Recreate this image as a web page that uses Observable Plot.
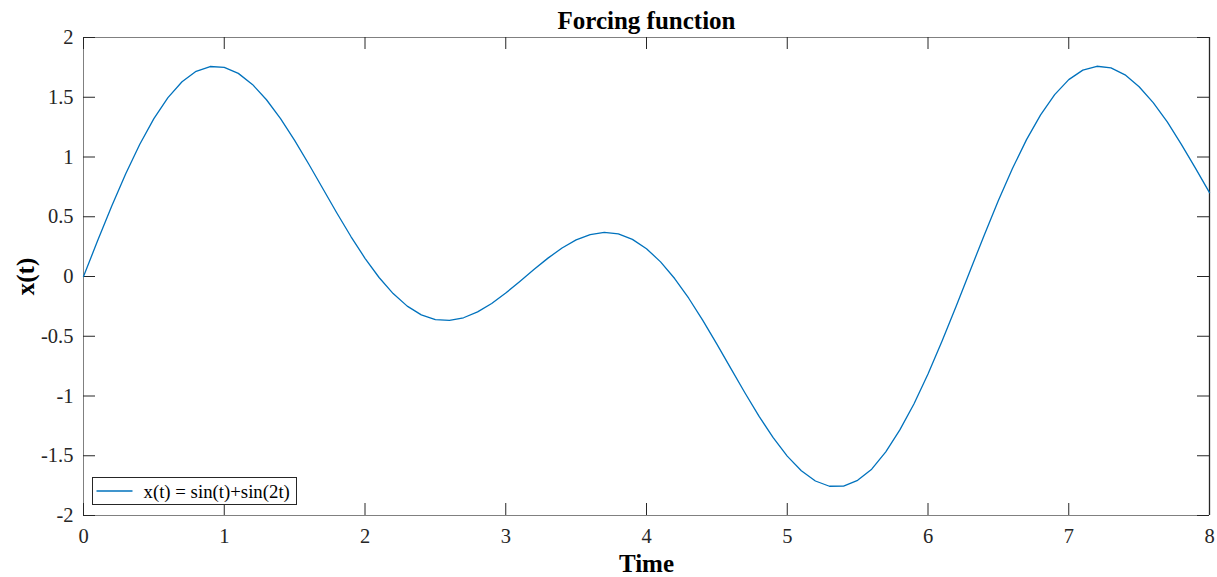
<!DOCTYPE html>
<html>
<head>
<meta charset="utf-8">
<script src="https://cdn.jsdelivr.net/npm/d3@7"></script>
<script src="https://cdn.jsdelivr.net/npm/@observablehq/plot@0.6"></script>
<style>
  html, body { margin: 0; padding: 0; background: #fff; }
  #chart { position: relative; width: 1217px; height: 577px; }
</style>
</head>
<body>
<div id="chart"></div>
<script>
const tValues = [0.0,0.1,0.2,0.3,0.4,0.5,0.6,0.7,0.8,0.9,1.0,1.1,1.2,1.3,1.4,1.5,1.6,1.7,1.8,1.9,2.0,2.1,2.2,2.3,2.4,2.5,2.6,2.7,2.8,2.9,3.0,3.1,3.2,3.3,3.4,3.5,3.6,3.7,3.8,3.9,4.0,4.1,4.2,4.3,4.4,4.5,4.6,4.7,4.8,4.9,5.0,5.1,5.2,5.3,5.4,5.5,5.6,5.7,5.8,5.9,6.0,6.1,6.2,6.3,6.4,6.5,6.6,6.7,6.8,6.9,7.0,7.1,7.2,7.3,7.4,7.5,7.6,7.7,7.8,7.9,8.0];
const xValues = [0.0000,0.2985,0.5881,0.8602,1.1068,1.3209,1.4967,1.6297,1.7169,1.7572,1.7508,1.6997,1.6075,1.4791,1.3204,1.1386,0.9412,0.7361,0.5313,0.3344,0.1525,-0.0084,-0.1431,-0.2480,-0.3207,-0.3605,-0.3680,-0.3454,-0.2963,-0.2254,-0.1383,-0.0415,0.0582,0.1538,0.2386,0.3062,0.3512,0.3689,0.3561,0.3108,0.2326,0.1225,-0.0170,-0.1818,-0.3667,-0.5654,-0.7708,-0.9751,-1.1705,-1.3489,-1.5029,-1.6257,-1.7113,-1.7552,-1.7543,-1.7055,-1.6122,-1.4670,-1.2838,-1.0674,-0.8160,-0.5404,-0.2487,0.0504,0.3481,0.6353,0.9036,1.1452,1.3530,1.5218,1.6476,1.7270,1.7593,1.7454,1.6878,1.5883,1.4551,1.2932,1.1063,0.9070,0.7015];
const xTicks = [0,1,2,3,4,5,6,7,8];
const yTicks = [-2,-1.5,-1,-0.5,0,0.5,1,1.5,2];
const seriesLabel = "x(t) = sin(t)+sin(2t)";
const titleText = "Forcing function";
const xLabel = "Time";
const yLabel = "x(t)";

const data = tValues.map((t, i) => ({t, x: xValues[i]}));

const W = 1217, H = 577;
const mL = 83, mR = 8, mT = 37, mB = 62;
const pw = W - mL - mR, ph = H - mT - mB;
const tick = 12;
const font = "'Liberation Serif', 'Times New Roman', serif";
const dark = "#262626";

const plot = Plot.plot({
  width: W, height: H,
  marginLeft: mL, marginRight: mR, marginTop: mT, marginBottom: mB,
  style: {fontFamily: font, fontSize: "20px", color: dark, background: "#fff", overflow: "visible"},
  x: {domain: [0, 8]},
  y: {domain: [-2, 2]},
  marks: [
    // box
    Plot.ruleY([-2], {stroke: "#808080", strokeWidth: 1}),
    Plot.ruleY([2], {stroke: "#808080", strokeWidth: 1}),
    Plot.ruleX([0], {stroke: "#808080", strokeWidth: 1}),
    Plot.ruleX([8], {stroke: dark, strokeWidth: 1.3}),
    // inward ticks
    Plot.tickX(xTicks, {x: d => d, insetTop: ph - tick, stroke: dark}),
    Plot.tickX(xTicks, {x: d => d, insetBottom: ph - tick, stroke: dark}),
    Plot.tickY(yTicks, {y: d => d, insetRight: pw - tick, stroke: dark}),
    Plot.tickY(yTicks, {y: d => d, insetLeft: pw - tick, stroke: dark}),
    // tick labels
    Plot.axisX(xTicks, {tickSize: 0, tickPadding: 13, fontSize: 20.5, label: null, fill: dark, tickFormat: d => String(d)}),
    Plot.axisY(yTicks, {tickSize: 0, tickPadding: 10, fontSize: 20.5, label: null, fill: dark, tickFormat: d => String(d)}),
    // curve
    Plot.line(data, {x: "t", y: "x", stroke: "#0072BD", strokeWidth: 1.3}),
    // title and labels
    Plot.text([titleText], {frameAnchor: "top", dy: -17, fontSize: 25, fontWeight: "bold", fill: "#000", lineAnchor: "middle", textAnchor: "middle"}),
    Plot.text([xLabel], {frameAnchor: "bottom", dy: 48, fontSize: 25, fontWeight: "bold", fill: "#000", lineAnchor: "middle", textAnchor: "middle"}),
    Plot.text([yLabel], {frameAnchor: "left", dx: -58, rotate: -90, fontSize: 25, fontWeight: "bold", fill: "#000", lineAnchor: "middle", textAnchor: "middle"})
  ]
});

document.getElementById("chart").appendChild(plot);

// legend inside the axes, bottom-left
const svg = d3.select(plot);
const g = svg.append("g").attr("transform", "translate(92.5,477.5)");
g.append("rect").attr("width", 204).attr("height", 27).attr("fill", "#fff").attr("stroke", dark).attr("stroke-width", 1);
g.append("line").attr("x1", 4).attr("x2", 40).attr("y1", 13.5).attr("y2", 13.5).attr("stroke", "#0072BD").attr("stroke-width", 1.3);
g.append("text").attr("x", 51).attr("y", 13.5).attr("dy", "0.35em").attr("text-anchor", "start")
  .attr("font-family", font).attr("font-size", 18.8).attr("fill", "#000").text(seriesLabel);
</script>
</body>
</html>
